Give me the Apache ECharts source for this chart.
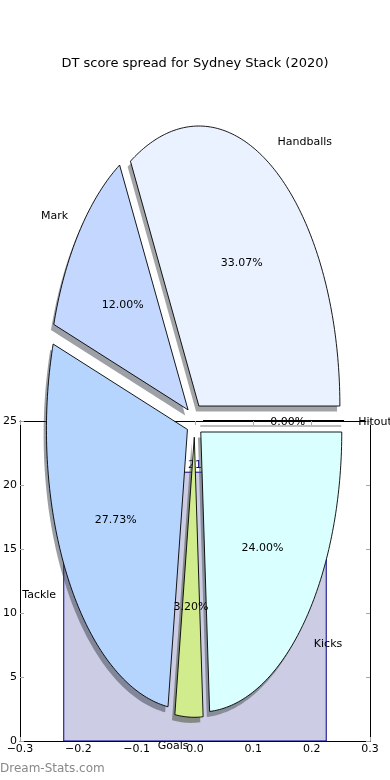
<!DOCTYPE html>
<html>
<head>
<meta charset="utf-8">
<script src="https://cdn.jsdelivr.net/npm/echarts@6/dist/echarts.min.js"></script>
<style>
html,body{margin:0;padding:0;background:#fff;}
#chart{width:390px;height:780px;}
</style>
</head>
<body>
<div id="chart"></div>
<script>
// ---- data ----
const titleText = 'DT score spread for Sydney Stack (2020)';
const categories = ['Handballs', 'Mark', 'Tackle', 'Goals', 'Kicks', 'Hitout'];
const dtPoints = [124, 45, 104, 12, 90, 0];
const barCenters = [0];
const barCounts = [21];
const xTicks = [-0.3, -0.2, -0.1, 0.0, 0.1, 0.2, 0.3];
const yTicks = [0, 5, 10, 15, 20, 25];

// ---- styles ----
const sliceColors = ['#ebf2ff', '#c4d8ff', '#b5d5ff', '#d0ec8c', '#d9ffff', '#ffffff'];
const EXPLODE = 0.06, PCT_DIST = 0.6, LABEL_DIST = 1.1, SHADOW_D = 0.02, BAR_W = 0.45;
const FONT = 'DejaVu Sans';
const TXT_DY = 1.5;

const total = dtPoints.reduce((a, b) => a + b, 0);
const startFrac = [];
{ let acc = 0; dtPoints.forEach(v => { startFrac.push(acc / total); acc += v; }); }

function hexRgb(h) { return [parseInt(h.substr(1,2),16), parseInt(h.substr(3,2),16), parseInt(h.substr(5,2),16)]; }

function fmtX(v) { const s = (Math.round(v * 10) / 10).toFixed(1); return s.replace('-', '\u2212'); }

const chart = echarts.init(document.getElementById('chart'));
const tickStyle = { show: true, inside: true, length: 4, lineStyle: { color: '#a8a8a8', width: 1 } };
const lineStyle = { show: true, onZero: false, lineStyle: { color: '#000', width: 1 } };

chart.setOption({
  animation: false,
  backgroundColor: '#fff',
  title: {
    text: titleText, left: 'center', top: 52,
    textStyle: { fontFamily: FONT, fontSize: 13, fontWeight: 'normal', color: '#000' }
  },
  graphic: [{
    type: 'text', left: 0, top: 763,
    style: { text: 'Dream-Stats.com', fontFamily: FONT, fontSize: 12, fill: '#888' }
  }],
  grid: [
    { left: 19, right: 20, top: 421, bottom: 39 },
    { left: 53.6, width: 282, top: 140.5, height: 560 }
  ],
  xAxis: [
    { gridIndex: 0, type: 'value', min: xTicks[0], max: xTicks[xTicks.length - 1], interval: 0.1, position: 'bottom',
      axisLine: lineStyle, axisTick: tickStyle, splitLine: { show: false },
      axisLabel: { formatter: fmtX, fontFamily: FONT, fontSize: 11, color: '#000', margin: 3 } },
    { gridIndex: 0, type: 'value', min: xTicks[0], max: xTicks[xTicks.length - 1], interval: 0.1, position: 'top',
      axisLine: lineStyle, axisTick: tickStyle, splitLine: { show: false }, axisLabel: { show: false } },
    { gridIndex: 1, type: 'value', min: -1, max: 1, show: false }
  ],
  yAxis: [
    { gridIndex: 0, type: 'value', min: yTicks[0], max: yTicks[yTicks.length - 1], interval: 5, position: 'left',
      axisLine: lineStyle, axisTick: tickStyle, splitLine: { show: false },
      axisLabel: { fontFamily: FONT, fontSize: 11, color: '#000', margin: 3 } },
    { gridIndex: 0, type: 'value', min: yTicks[0], max: yTicks[yTicks.length - 1], interval: 5, position: 'right',
      axisLine: lineStyle, axisTick: tickStyle, splitLine: { show: false }, axisLabel: { show: false } },
    { gridIndex: 1, type: 'value', min: -1, max: 1, show: false }
  ],
  series: [
    {
      type: 'custom', xAxisIndex: 0, yAxisIndex: 0, z: 2,
      data: barCenters.map((c, i) => [c, barCounts[i]]),
      renderItem: function (params, api) {
        const x = api.value(0), h = api.value(1);
        const p0 = api.coord([x - BAR_W / 2, 0]);
        const p1 = api.coord([x + BAR_W / 2, h]);
        const pt = api.coord([x, h]);
        return {
          type: 'group', children: [
            { type: 'rect', shape: { x: p0[0], y: p1[1], width: p1[0] - p0[0], height: p0[1] - p1[1] },
              style: { fill: '#cccce5', stroke: '#00008b', lineWidth: 1 } },
            { type: 'text', style: { text: String(h), x: pt[0], y: pt[1] - 2, align: 'center', verticalAlign: 'bottom',
              fontFamily: FONT, fontSize: 11, fill: '#00008b' } }
          ]
        };
      }
    },
    {
      type: 'custom', xAxisIndex: 2, yAxisIndex: 2, z: 5,
      data: categories.map((c, i) => [i, dtPoints[i]]),
      renderItem: function (params, api) {
        const i = params.dataIndex;
        const v = api.value(1);
        const t1 = startFrac[i] * 2 * Math.PI;
        const t2 = t1 + v / total * 2 * Math.PI;
        const tm = (t1 + t2) / 2;
        const cx = EXPLODE * Math.cos(tm), cy = EXPLODE * Math.sin(tm);
        const n = Math.max(1, Math.ceil((t2 - t1) / (Math.PI / 180)));
        const pts = [], sh = [];
        const push = (x, y) => { pts.push(api.coord([x, y])); sh.push(api.coord([x - SHADOW_D, y - SHADOW_D])); };
        push(cx, cy);
        for (let k = 0; k <= n; k++) {
          const t = t1 + (t2 - t1) * k / n;
          push(cx + Math.cos(t), cy + Math.sin(t));
        }
        const rgb = hexRgb(sliceColors[i]);
        const shadowFill = 'rgba(' + rgb.map(c => Math.round(c * 0.3)).join(',') + ',0.5)';
        const lp = api.coord([cx + LABEL_DIST * Math.cos(tm), cy + LABEL_DIST * Math.sin(tm)]);
        const pp = api.coord([cx + PCT_DIST * Math.cos(tm), cy + PCT_DIST * Math.sin(tm)]);
        const zero = v === 0;
        const children = [];
        if (zero) {
          children.push({ type: 'polyline', z2: 1, shape: { points: sh }, style: { stroke: shadowFill, lineWidth: 1.5, fill: null } });
          children.push({ type: 'polyline', z2: 10, shape: { points: pts }, style: { stroke: '#000', lineWidth: 1, fill: null } });
        } else {
          children.push({ type: 'polygon', z2: 1, shape: { points: sh }, style: { fill: shadowFill } });
          children.push({ type: 'polygon', z2: 10, shape: { points: pts }, style: { fill: sliceColors[i], stroke: '#000', lineWidth: 0.9 } });
        }
        children.push({ type: 'text', z2: 20, style: {
          text: categories[i], x: lp[0], y: lp[1] + TXT_DY, align: Math.cos(tm) > 0 ? 'left' : 'right', verticalAlign: 'middle',
          fontFamily: FONT, fontSize: 11, fill: '#000' } });
        children.push({ type: 'text', z2: 20, style: {
          text: (v / total * 100).toFixed(2) + '%', x: pp[0], y: pp[1] + TXT_DY, align: 'center', verticalAlign: 'middle',
          fontFamily: FONT, fontSize: 11, fill: '#000' } });
        return { type: 'group', children: children };
      }
    }
  ]
});
</script>
</body>
</html>
